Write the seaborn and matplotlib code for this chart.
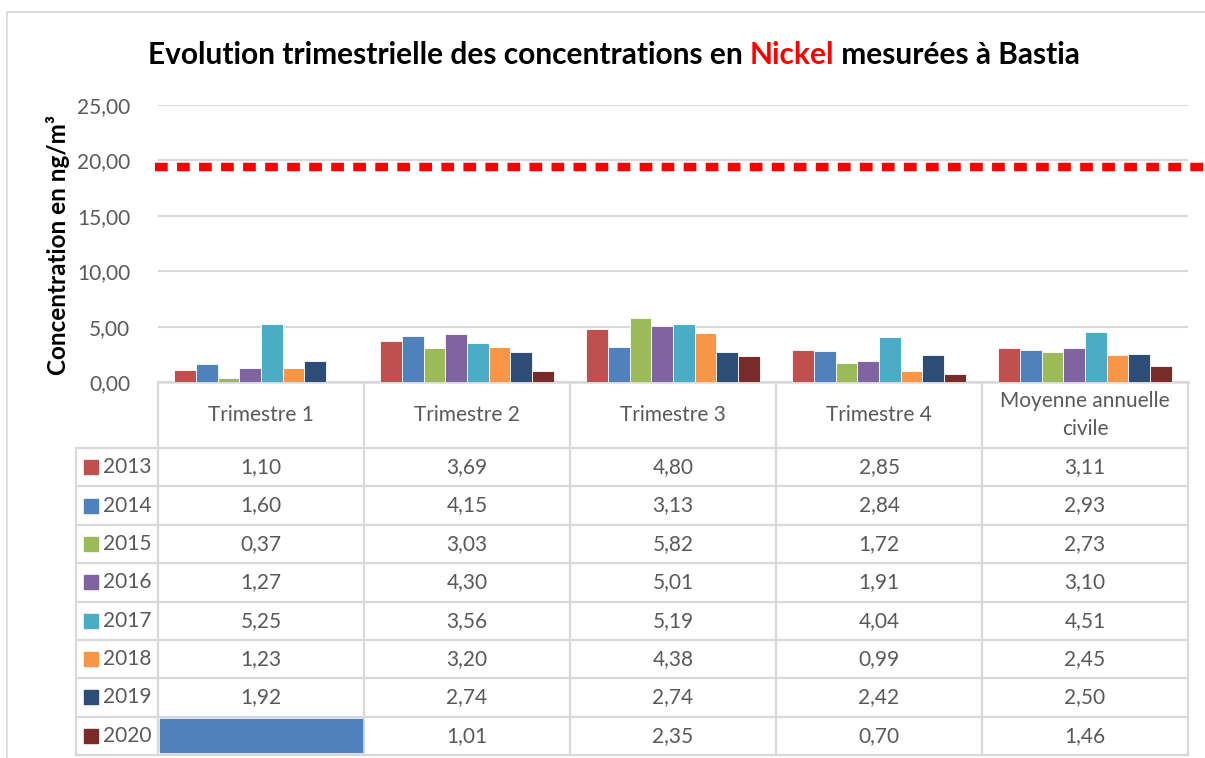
import numpy as np
import pandas as pd
import seaborn as sns
import matplotlib.pyplot as plt
from matplotlib.patches import Rectangle

# données
periodes = ["Trimestre 1", "Trimestre 2", "Trimestre 3", "Trimestre 4", "Moyenne annuelle\ncivile"]
annees = ["2013", "2014", "2015", "2016", "2017", "2018", "2019", "2020"]
v2013 = [1.10, 3.69, 4.80, 2.85, 3.11]
v2014 = [1.60, 4.15, 3.13, 2.84, 2.93]
v2015 = [0.37, 3.03, 5.82, 1.72, 2.73]
v2016 = [1.27, 4.30, 5.01, 1.91, 3.10]
v2017 = [5.25, 3.56, 5.19, 4.04, 4.51]
v2018 = [1.23, 3.20, 4.38, 0.99, 2.45]
v2019 = [1.92, 2.74, 2.74, 2.42, 2.50]
v2020 = [np.nan, 1.01, 2.35, 0.70, 1.46]
couleurs = ["#C0504D", "#4F81BD", "#9BBB59", "#8064A2", "#4BACC6", "#F79646", "#2C4D75", "#772C2A"]
valeur_limite = 19.4

series = [v2013, v2014, v2015, v2016, v2017, v2018, v2019, v2020]
rows = []
for an, vals in zip(annees, series):
    for p, v in zip(periodes, vals):
        rows.append({"periode": p, "annee": an, "valeur": v})
df = pd.DataFrame(rows)

sns.set_style("white")
plt.rcParams["font.family"] = ["Lato", "DejaVu Sans"]
gris = "#595959"
trait = "#D9D9D9"
fs = 15

W, H = 1205, 758
fig = plt.figure(figsize=(W / 100, H / 100), dpi=100)

# axes en pixels : gauche 158, droite 1188, haut 105, bas 382
L, R, T, B = 158, 1188, 105, 382
ax = fig.add_axes([L / W, 1 - B / H, (R - L) / W, (B - T) / H])
sns.barplot(data=df, x="periode", y="valeur", hue="annee", order=periodes,
            hue_order=annees, palette=couleurs, saturation=1, width=0.84,
            errorbar=None, legend=False, edgecolor="white", linewidth=0.6,
            ax=ax, zorder=3)
ax.set_ylim(0, 25)
ax.set_xlim(-0.5, len(periodes) - 0.5)
ax.set_yticks(range(0, 26, 5))
ax.set_yticklabels([f"{t:.2f}".replace(".", ",") for t in range(0, 26, 5)],
                   color=gris, fontsize=fs)
ax.tick_params(axis="y", length=0, pad=20)
ax.set_xticks([])
ax.set_xlabel("")
ax.set_ylabel("")
ax.grid(axis="y", color=trait, linewidth=1.5)
ax.set_axisbelow(True)
for s in ["top", "right", "left"]:
    ax.spines[s].set_visible(False)
ax.spines["bottom"].set_color(trait)
ax.spines["bottom"].set_linewidth(1.8)

ax.axhline(valeur_limite, xmin=(155 - L) / (R - L), xmax=(W - L) / (R - L),
           color="#FF0000", lw=6.1, linestyle=(0, (1.5, 1.1)),
           dash_capstyle="butt", clip_on=False, zorder=4)

# calque en pixels pour le tableau et le cadre
ov = fig.add_axes([0, 0, 1, 1], zorder=-1)
ov.set_xlim(0, W)
ov.set_ylim(H, 0)
ov.axis("off")

# cadre du graphique
ov.plot([7, 7, W + 5], [H + 5, 12, 12], color=trait, lw=1.2)

col_w = (R - L) / len(periodes)
bords = [L + i * col_w for i in range(len(periodes) + 1)]
y_entete = 448
row_h = (755 - y_entete) / len(annees)
lignes = [y_entete + i * row_h for i in range(len(annees) + 1)]
x_gauche = 76

for x in bords:
    ov.plot([x, x], [B, lignes[-1]], color=trait, lw=1.6)
ov.plot([x_gauche, x_gauche], [y_entete, lignes[-1]], color=trait, lw=1.6)
for y in lignes:
    ov.plot([x_gauche, R], [y, y], color=trait, lw=1.6)

# cellule bleue 2020 / Trimestre 1
ov.add_patch(Rectangle((bords[0] + 2, lignes[-2] + 2), col_w - 4, row_h - 5,
                       color="#4F81BD", zorder=3))

for j, p in enumerate(periodes):
    ov.text((bords[j] + bords[j + 1]) / 2, (B + y_entete) / 2, p, ha="center",
            va="center", color=gris, fontsize=fs, linespacing=1.5)

for i, (an, vals) in enumerate(zip(annees, series)):
    yc = (lignes[i] + lignes[i + 1]) / 2
    ov.add_patch(Rectangle((84, yc - 7), 14, 14, color=couleurs[i]))
    ov.text(103, yc, an, ha="left", va="center", color=gris, fontsize=fs)
    for j, v in enumerate(vals):
        if np.isnan(v):
            continue
        ov.text((bords[j] + bords[j + 1]) / 2, yc, f"{v:.2f}".replace(".", ","),
                ha="center", va="center", color=gris, fontsize=fs)

# titre avec le mot Nickel en rouge
renderer = fig.canvas.get_renderer()
morceaux = [("Evolution trimestrielle des concentrations en ", "black"),
            ("Nickel", "#FF0000"),
            (" mesurées à Bastia", "black")]
x = 148
for txt, c in morceaux:
    t = ov.text(x, 64, txt, color=c, fontsize=21.5, fontweight="bold",
                ha="left", va="baseline")
    bb = t.get_window_extent(renderer=renderer)
    x += bb.width

fig.text(58 / W, 1 - 245 / H, "Concentration en ng/m³", rotation=90,
         ha="center", va="center", fontsize=17.5, fontweight="bold", color="black")

fig.savefig("out.png", dpi=100)
